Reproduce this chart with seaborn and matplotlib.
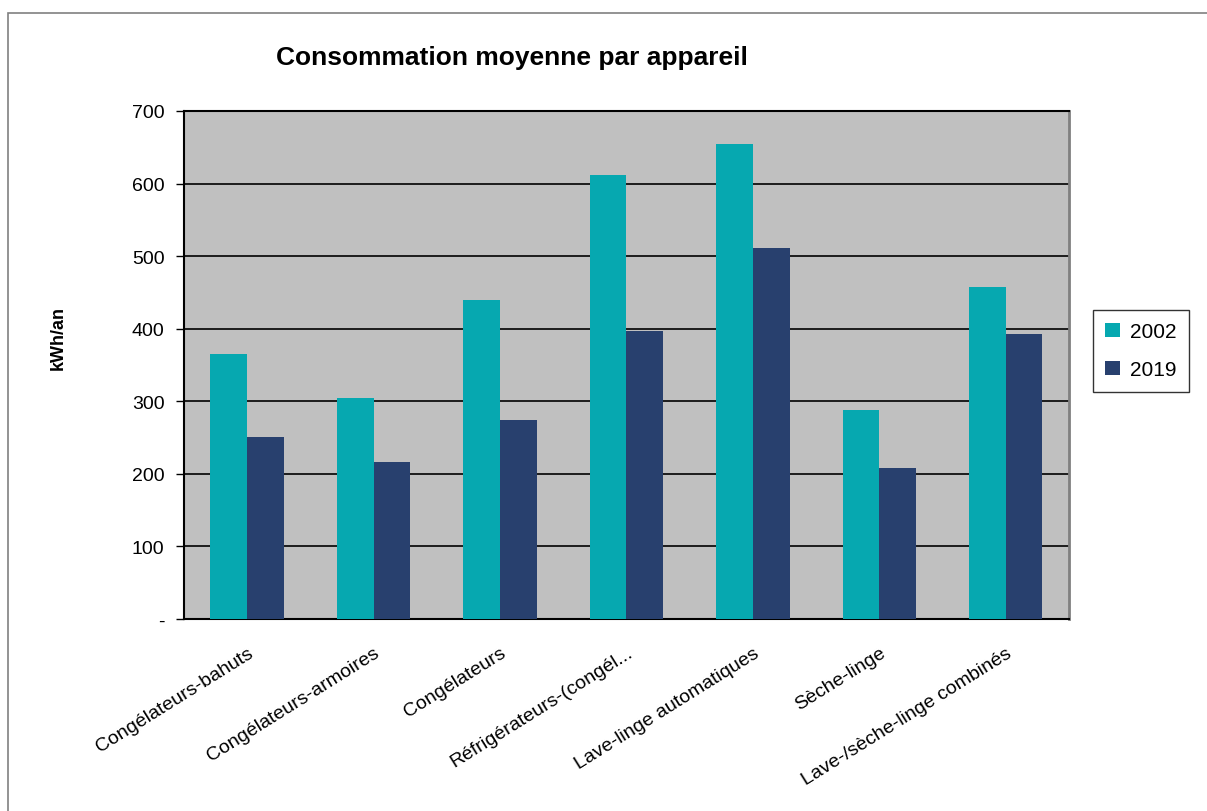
import pandas as pd
import numpy as np
import matplotlib.pyplot as plt
import seaborn as sns
from matplotlib.patches import Rectangle

# Données
categories = ["Congélateurs-bahuts", "Congélateurs-armoires", "Congélateurs",
              "Réfrigérateurs-(congél...", "Lave-linge automatiques",
              "Sèche-linge", "Lave-/sèche-linge combinés"]
conso_2002 = [365, 305, 440, 612, 655, 288, 457]
conso_2019 = [251, 216, 274, 397, 511, 208, 393]
annees = ["2002", "2019"]
yticks = [0, 100, 200, 300, 400, 500, 600, 700]
ytick_labels = ["-", "100", "200", "300", "400", "500", "600", "700"]

df = pd.DataFrame({
    "categorie": categories * 2,
    "annee": [annees[0]] * len(categories) + [annees[1]] * len(categories),
    "kwh": conso_2002 + conso_2019,
})

sns.set_style("white")
plt.rcParams["font.family"] = ["Liberation Sans", "DejaVu Sans"]
plt.rcParams["text.color"] = "black"
plt.rcParams["xtick.color"] = "black"
plt.rcParams["ytick.color"] = "black"

fig = plt.figure(figsize=(12.07, 8.12), dpi=100)
ax = fig.add_axes([0.1524, 0.2365, 0.7333, 0.6256])
ax.set_facecolor("#C0C0C0")

# cadre de la figure
fig.patches.append(Rectangle((8 / 1207, -0.1), 1.2, 1 - 14 / 812 + 0.1,
                             transform=fig.transFigure, fill=False,
                             edgecolor="#808080", linewidth=1.2))

sns.barplot(data=df, x="categorie", y="kwh", hue="annee", order=categories,
            hue_order=annees, palette=["#06A8B0", "#28406E"], width=0.58,
            saturation=1, linewidth=0, ax=ax, zorder=3)

ax.set_ylim(0, 700)
ax.set_xlim(-0.5, len(categories) - 0.5)
ax.set_yticks(yticks)
ax.set_yticklabels(ytick_labels, fontsize=14)
for y in yticks[1:]:
    ax.axhline(y, color="black", linewidth=1.2, zorder=1)

ax.set_xticks(np.arange(len(categories)))
ax.set_xticklabels(categories, rotation=32, ha="right", rotation_mode="anchor",
                   fontsize=14)
ax.tick_params(axis="x", which="major", length=0, pad=18)
ax.set_xticks(np.arange(-0.5, len(categories)), minor=True)
ax.tick_params(axis="x", which="minor", length=6, width=1, direction="out")
ax.tick_params(axis="y", length=6, width=1, direction="out", left=True, pad=8)

ax.set_xlabel("")
ax.set_ylabel("")
fig.text(58 / 1207, 1 - 338 / 812, "kWh/an", fontsize=13, fontweight="bold",
         rotation=90, ha="center", va="center")
for s in ["left", "bottom", "top"]:
    ax.spines[s].set_color("black")
    ax.spines[s].set_linewidth(1.5)
ax.spines["right"].set_color("#808080")
ax.spines["right"].set_linewidth(2)

fig.text(0.424, 0.928, "Consommation moyenne par appareil", fontsize=19,
         fontweight="bold", ha="center", va="center")

leg = ax.legend(loc="center left", bbox_to_anchor=(1.027, 0.528), frameon=True,
                fontsize=15, handlelength=0.7, handleheight=0.7, borderaxespad=0,
                borderpad=0.6, labelspacing=0.9, handletextpad=0.5, fancybox=False)
leg.get_frame().set_edgecolor("black")
leg.get_frame().set_linewidth(1)

plt.savefig("out.png", dpi=100)
